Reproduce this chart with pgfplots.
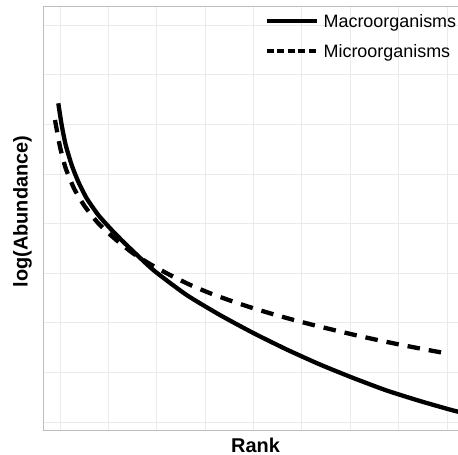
\documentclass[border=0pt]{standalone}
\usepackage{fontspec}
\setmainfont{Liberation Sans}
\usepackage{pgfplots}
\pgfplotsset{compat=1.18}

\definecolor{gridgray}{RGB}{234,234,234}
\definecolor{framegray}{RGB}{190,190,190}

\begin{document}
\begin{tikzpicture}
\path[use as bounding box] (-43bp,-25bp) rectangle (415bp,430bp);
\begin{axis}[
    at={(0,0)}, anchor=south west,
    scale only axis,
    width=425bp, height=423bp,
    xmin=-0.351, xmax=8.434,
    ymin=-0.161, ymax=8.367,
    xtick={0,1,...,8}, ytick={0,1,...,8},
    xticklabels={}, yticklabels={},
    major tick length=0pt,
    grid=major,
    major grid style={draw=gridgray, line width=0.8bp},
    axis line style={draw=framegray, line width=1bp},
    xlabel={\bfseries Rank},
    ylabel={\bfseries log(Abundance)},
    label style={font=\fontsize{20}{24}\selectfont, inner sep=0pt},
    xlabel style={at={(axis description cs:0.5,0)}, anchor=base, yshift=-22bp},
    ylabel style={at={(axis description cs:-0.0361,0.5166)}, anchor=base},
    legend style={
        at={(axis description cs:0.521,0.9834)}, anchor=north west,
        draw=none, fill=none, inner sep=0pt,
        font=\fontsize{18}{21}\selectfont,
        row sep=13bp,
        nodes={inner sep=0pt, text height=13bp, text depth=4bp,
               font=\fontsize{18}{21}\selectfont},
        /tikz/every odd column/.append style={column sep=5bp},
    },
    legend cell align=left,
]
% solid curve
\addplot[black, line width=4.3bp, smooth, tension=0.35,
    legend image code/.code={\draw[black, line width=4bp] (0bp,2bp) -- (50bp,2bp);}]
coordinates {
(-0.035,6.425)(0.035,5.988)(0.118,5.585)(0.242,5.181)(0.378,4.845)(0.552,4.510)
(0.792,4.173)(1.069,3.871)(1.344,3.599)(1.929,3.065)(2.619,2.560)(3.307,2.157)
(3.996,1.794)(4.686,1.462)(5.375,1.159)(6.063,0.887)(6.753,0.635)(7.442,0.423)
(8.130,0.232)(8.682,0.101)
};
\addlegendentry{Macroorganisms}
% dashed curve
\addplot[black, line width=4.3bp, smooth, tension=0.35, dash pattern=on 12.5bp off 9bp,
    legend image code/.code={\draw[black, line width=4bp, dash pattern=on 7bp off 3.5bp] (0bp,2bp) -- (50bp,2bp);}]
coordinates {
(-0.103,6.089)(0.000,5.550)(0.118,5.115)(0.296,4.698)(0.517,4.341)(0.792,4.006)
(1.122,3.704)(1.488,3.417)(1.860,3.185)(2.274,2.964)(2.687,2.766)(3.101,2.597)
(3.514,2.450)(3.928,2.315)(4.341,2.192)(4.823,2.060)(5.236,1.956)(5.685,1.849)
(6.098,1.754)(6.547,1.657)(6.993,1.567)(7.442,1.482)(7.890,1.401)(8.000,1.381)
};
\addlegendentry{Microorganisms}
\end{axis}
\end{tikzpicture}
\end{document}
